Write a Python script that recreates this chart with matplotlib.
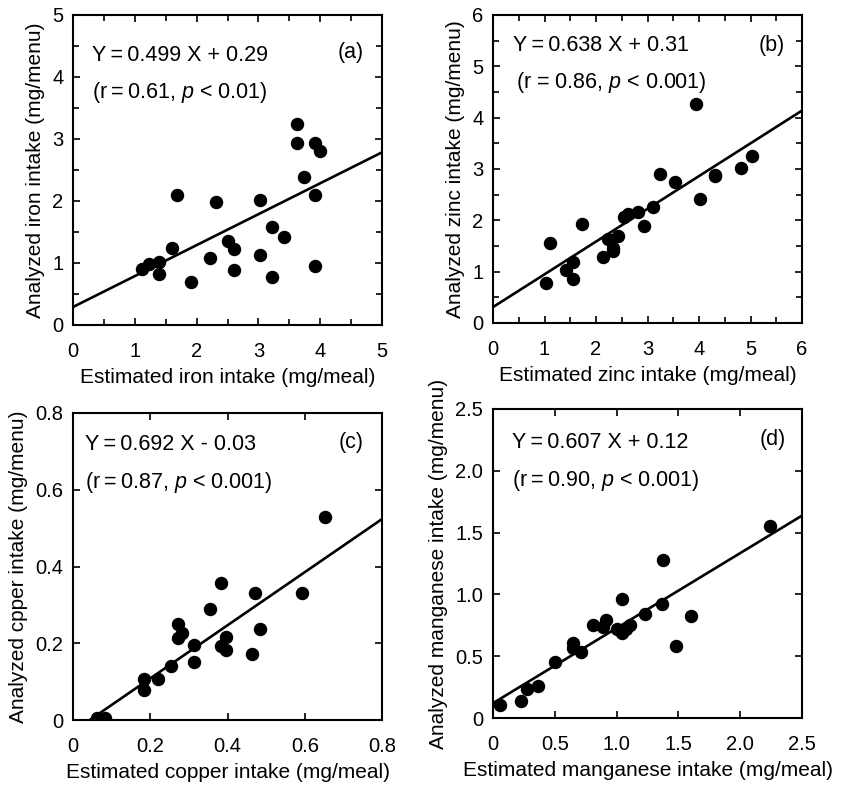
import matplotlib
matplotlib.use('Agg')
import matplotlib.pyplot as plt
import numpy as np
from matplotlib.ticker import MultipleLocator

plt.rcParams['font.family'] = ['Liberation Sans', 'DejaVu Sans']
plt.rcParams['mathtext.fontset'] = 'custom'
plt.rcParams['mathtext.rm'] = 'Liberation Sans'
plt.rcParams['mathtext.it'] = 'Liberation Sans:italic'

# (a) hierro
iron_x = [1.11, 1.23, 1.39, 1.39, 1.61, 1.69, 1.91, 2.22, 2.31, 2.51, 2.61, 2.61,
          3.02, 3.02, 3.22, 3.22, 3.42, 3.63, 3.63, 3.73, 3.91, 4.00, 3.91, 3.91]
iron_y = [0.91, 0.98, 1.01, 0.82, 1.25, 2.09, 0.70, 1.08, 1.98, 1.36, 1.23, 0.88,
          2.01, 1.13, 1.58, 0.78, 1.42, 3.24, 2.93, 2.38, 2.94, 2.81, 2.09, 0.95]

# (b) zinc
zinc_x = [1.03, 1.11, 1.42, 1.55, 1.55, 1.73, 2.13, 2.23, 2.33, 2.33, 2.43, 2.54,
          2.62, 2.82, 2.93, 3.11, 3.24, 3.54, 3.94, 4.02, 4.32, 4.32, 4.82, 5.02]
zinc_y = [0.77, 1.56, 1.04, 1.19, 0.86, 1.93, 1.29, 1.64, 1.47, 1.40, 1.70, 2.06,
          2.13, 2.16, 1.89, 2.26, 2.90, 2.75, 4.26, 2.41, 2.88, 2.86, 3.01, 3.26]

# (c) cobre
copper_x = [0.653, 0.383, 0.472, 0.593, 0.355, 0.272, 0.281, 0.272, 0.314, 0.314,
            0.395, 0.383, 0.395, 0.484, 0.463, 0.253, 0.221, 0.184, 0.184, 0.062, 0.084]
copper_y = [0.528, 0.358, 0.330, 0.330, 0.289, 0.249, 0.228, 0.214, 0.195, 0.152,
            0.215, 0.193, 0.182, 0.237, 0.172, 0.141, 0.106, 0.106, 0.078, 0.005, 0.005]

# (d) manganeso
mn_x = [2.24, 1.378, 1.04, 1.368, 1.227, 1.605, 0.914, 0.886, 0.811, 1.00, 1.04,
        1.08, 1.108, 1.481, 0.649, 0.649, 0.716, 0.50, 0.368, 0.278, 0.227, 0.054]
mn_y = [1.556, 1.278, 0.965, 0.925, 0.839, 0.825, 0.793, 0.739, 0.752, 0.717, 0.685,
        0.717, 0.752, 0.585, 0.604, 0.564, 0.537, 0.450, 0.262, 0.235, 0.138, 0.105]

ts = '\u2009'  # espacio fino
paneles = [
    dict(x=iron_x, y=iron_y, slope=0.499, icpt=0.29, lim=5, major=1, minor=0.5,
         ticks=['0', '1', '2', '3', '4', '5'],
         eq=f'Y{ts}={ts}0.499 X + 0.29', stat=f'(r{ts}={ts}0.61, $\\mathit{{p}}$ < 0.01)', tag='(a)',
         xlabel='Estimated iron intake (mg/meal)', ylabel='Analyzed iron intake (mg/menu)',
         pos=[73, 15, 382, 325], txt=(0.06, 0.87, 0.06, 0.75, 0.94, 0.88)),
    dict(x=zinc_x, y=zinc_y, slope=0.638, icpt=0.31, lim=6, major=1, minor=0.5,
         ticks=['0', '1', '2', '3', '4', '5', '6'],
         eq=f'Y{ts}={ts}0.638 X + 0.31', stat='(r = 0.86, $\\mathit{p}$ < 0.001)', tag='(b)',
         xlabel='Estimated zinc intake (mg/meal)', ylabel='Analyzed zinc intake (mg/menu)',
         pos=[493, 15, 802, 323], txt=(0.065, 0.90, 0.075, 0.78, 0.945, 0.90)),
    dict(x=copper_x, y=copper_y, slope=0.692, icpt=-0.03, lim=0.8, major=0.2, minor=None,
         ticks=['0', '0.2', '0.4', '0.6', '0.8'],
         eq=f'Y{ts}={ts}0.692 X - 0.03', stat=f'(r{ts}={ts}0.87, $\\mathit{{p}}$ < 0.001)', tag='(c)',
         xlabel='Estimated copper intake (mg/meal)', ylabel='Analyzed cpper intake (mg/menu)',
         pos=[73, 413, 382, 720], txt=(0.04, 0.896, 0.04, 0.772, 0.94, 0.905)),
    dict(x=mn_x, y=mn_y, slope=0.607, icpt=0.12, lim=2.5, major=0.5, minor=None,
         ticks=['0', '0.5', '1.0', '1.5', '2.0', '2.5'],
         eq=f'Y{ts}={ts}0.607 X + 0.12', stat=f'(r{ts}={ts}0.90, $\\mathit{{p}}$ < 0.001)', tag='(d)',
         xlabel='Estimated manganese intake (mg/meal)', ylabel='Analyzed manganese intake (mg/menu)',
         pos=[493, 409, 802, 718], txt=(0.062, 0.89, 0.062, 0.77, 0.948, 0.90)),
]

W, H = 847, 785
fig = plt.figure(figsize=(W / 100, H / 100), dpi=100)

for p in paneles:
    l, t, r, b = p['pos']
    ax = fig.add_axes([l / W, 1 - b / H, (r - l) / W, (b - t) / H])
    ax.scatter(p['x'], p['y'], s=75, color='black', zorder=3)
    xs = np.array([0, p['lim']])
    ax.plot(xs, p['slope'] * xs + p['icpt'], color='black', lw=1.9)
    ax.set_xlim(0, p['lim'])
    ax.set_ylim(0, p['lim'])
    vals = np.arange(len(p['ticks'])) * p['major']
    ax.set_xticks(vals)
    ax.set_yticks(vals)
    ax.set_xticklabels(p['ticks'])
    ax.set_yticklabels(p['ticks'])
    if p['minor']:
        ax.xaxis.set_minor_locator(MultipleLocator(p['minor']))
        ax.yaxis.set_minor_locator(MultipleLocator(p['minor']))
    ax.tick_params(which='both', direction='in', top=True, right=True, width=1.2)
    ax.tick_params(which='major', length=5, labelsize=14.5)
    ax.tick_params(which='minor', length=4)
    ax.tick_params(axis='x', pad=12)
    ax.tick_params(axis='y', pad=7)
    for sp in ax.spines.values():
        sp.set_linewidth(1.5)
    ax.set_xlabel(p['xlabel'], fontsize=15, labelpad=5)
    ax.set_ylabel(p['ylabel'], fontsize=15, labelpad=5)
    ex, ey, sx, sy, tx, ty = p['txt']
    ax.text(ex, ey, p['eq'], transform=ax.transAxes, fontsize=15.5, va='center')
    ax.text(sx, sy, p['stat'], transform=ax.transAxes, fontsize=15.5, va='center')
    ax.text(tx, ty, p['tag'], transform=ax.transAxes, fontsize=15.5, va='center', ha='right')

fig.savefig('out.png', dpi=100)
